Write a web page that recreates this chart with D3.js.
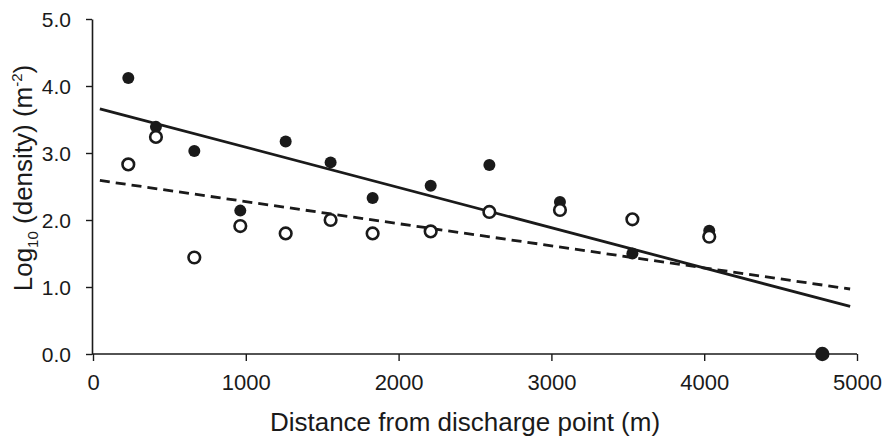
<!DOCTYPE html>
<html>
<head>
<meta charset="utf-8">
<script src="https://cdn.jsdelivr.net/npm/d3@7"></script>
<style>
  body { margin: 0; background: #fff; }
  svg text { font-family: "Liberation Sans", Arial, sans-serif; fill: #1a1a1a; }
</style>
</head>
<body>
<div id="chart"></div>
<script>
// distance from discharge point (m)
const distance = [231, 412, 663, 964, 1261, 1555, 1830, 2210, 2594, 3056, 3530, 4033, 4773];
// log10 density, filled markers
const filledDensity = [4.12, 3.39, 3.03, 2.14, 3.17, 2.86, 2.33, 2.51, 2.82, 2.27, 1.50, 1.84, 0.0];
// log10 density, open markers (none at the last station)
const openDensity = [2.83, 3.24, 1.44, 1.91, 1.80, 2.00, 1.80, 1.83, 2.12, 2.15, 2.01, 1.75, null];

// fitted trend lines (end points)
const trendX = [45, 4955];
const solidTrend = [3.66, 0.71];
const dashedTrend = [2.59, 0.97];

const xTicks = [0, 1000, 2000, 3000, 4000, 5000];
const yTicks = [0, 1, 2, 3, 4, 5];

const W = 896, H = 438;
const margin = {top: 19, right: 39, bottom: 84, left: 93};

const svg = d3.select("#chart")
  .append("svg")
  .attr("width", W)
  .attr("height", H);

const x = d3.scaleLinear()
  .domain([0, 5000])
  .range([margin.left, W - margin.right]);

const y = d3.scaleLinear()
  .domain([0, 5])
  .range([H - margin.bottom, margin.top]);

const ink = "#1a1a1a";

// x axis
const xAxis = svg.append("g")
  .attr("transform", `translate(0,${y(0)})`)
  .call(d3.axisBottom(x).tickValues(xTicks).tickFormat(d3.format("d"))
    .tickSize(7).tickPadding(13).tickSizeOuter(0));
xAxis.select(".domain").attr("stroke", ink).attr("stroke-width", 1.6)
  .attr("d", `M${x(0) - 1},0H${x(5000)}`);
xAxis.selectAll(".tick line").attr("stroke", ink).attr("stroke-width", 1.4);
xAxis.selectAll(".tick text").attr("font-size", 22).style("fill", ink);

// y axis
const yAxis = svg.append("g")
  .attr("transform", `translate(${x(0) - 1},0)`)
  .call(d3.axisLeft(y).tickValues(yTicks).tickFormat(d3.format(".1f"))
    .tickSize(6).tickPadding(15).tickSizeOuter(0));
yAxis.select(".domain").attr("stroke", ink).attr("stroke-width", 1.6);
yAxis.selectAll(".tick line").attr("stroke", ink).attr("stroke-width", 1.4);
yAxis.selectAll(".tick text").attr("font-size", 21).attr("dy", "0.36em").style("fill", ink);

// trend lines
const line = d3.line().x(d => x(d[0])).y(d => y(d[1]));

svg.append("path")
  .datum(trendX.map((d, i) => [d, solidTrend[i]]))
  .attr("d", line)
  .attr("fill", "none")
  .attr("stroke", ink)
  .attr("stroke-width", 2.8);

svg.append("path")
  .datum(trendX.map((d, i) => [d, dashedTrend[i]]))
  .attr("d", line)
  .attr("fill", "none")
  .attr("stroke", ink)
  .attr("stroke-width", 2.8)
  .attr("stroke-dasharray", "10,6");

// filled markers
svg.append("g")
  .selectAll("circle")
  .data(distance.map((d, i) => [d, filledDensity[i]]))
  .join("circle")
  .attr("cx", d => x(d[0]))
  .attr("cy", d => y(d[1]))
  .attr("r", (d, i) => i === distance.length - 1 ? 7.2 : 6)
  .attr("fill", ink);

// open markers
svg.append("g")
  .selectAll("circle")
  .data(distance.map((d, i) => [d, openDensity[i]]).filter(d => d[1] != null))
  .join("circle")
  .attr("cx", d => x(d[0]))
  .attr("cy", d => y(d[1]))
  .attr("r", 5.8)
  .attr("fill", "#fff")
  .attr("stroke", ink)
  .attr("stroke-width", 2.6);

// axis titles
svg.append("text")
  .attr("x", 465)
  .attr("y", 431)
  .attr("text-anchor", "middle")
  .attr("font-size", 26)
  .text("Distance from discharge point (m)");

const yTitle = svg.append("text")
  .attr("transform", "translate(32,178) rotate(-90)")
  .attr("text-anchor", "middle")
  .attr("font-size", 26);
yTitle.append("tspan").text("Log");
yTitle.append("tspan").attr("font-size", 15).attr("dy", 6).text("10");
yTitle.append("tspan").attr("dy", -6).text(" (density) (m");
yTitle.append("tspan").attr("font-size", 15).attr("dy", -10).text("-2");
yTitle.append("tspan").attr("dy", 10).text(")");
</script>
</body>
</html>
